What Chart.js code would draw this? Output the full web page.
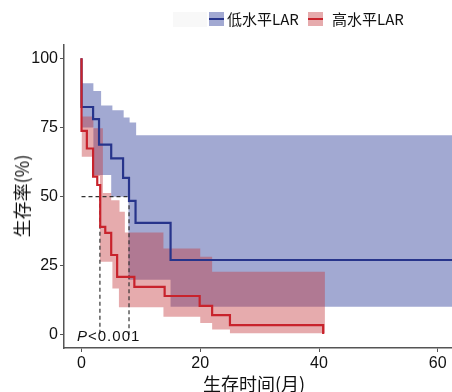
<!DOCTYPE html>
<html><head><meta charset="utf-8">
<script src="https://cdn.jsdelivr.net/npm/chart.js@4.4.1/dist/chart.umd.min.js"></script>
<style>
body{margin:0;background:#fff;}
#wrap{position:relative;width:452px;height:392px;overflow:hidden;}
.t{position:absolute;white-space:nowrap;color:#111;}
.cjk{font-family:"Noto Sans CJK SC","Noto Sans",sans-serif;}
</style></head>
<body>
<div id="wrap">
<canvas id="c" width="452" height="392"></canvas>
<div class="t" style="left:173px;top:12px;width:34px;height:15px;background:#f8f8f8;"></div>
<div class="t" style="left:209px;top:12px;width:15px;height:14px;background:rgba(70,84,165,0.5);"><div style="position:absolute;left:0;top:6px;width:15px;height:2px;background:#27348b"></div></div>
<div class="t cjk" id="lg1" style="left:227px;top:9px;font-size:15px;line-height:20px;"></div>
<div class="t" style="left:308px;top:12px;width:15px;height:14px;background:rgba(195,55,60,0.42);"><div style="position:absolute;left:0;top:6px;width:15px;height:2px;background:#c8232c"></div></div>
<div class="t cjk" id="lg2" style="left:332px;top:9px;font-size:15px;line-height:20px;"></div>
<div class="t cjk" id="xt" style="left:0;width:452px;padding-left:56px;box-sizing:border-box;text-align:center;top:372px;font-size:18px;line-height:22px;"></div>
<div class="t cjk" id="yt" style="left:21px;top:196px;font-size:18px;line-height:22px;transform:translate(-50%,-50%) rotate(-90deg);"></div>
<div class="t" id="pv" style="left:77px;top:327px;font-family:'Liberation Sans',Arial,sans-serif;font-size:15px;line-height:18px;letter-spacing:1px;"><i>P</i>&lt;0.001</div>
</div>
<script>
// ---- data ----
const seriesNames = ["低水平LAR", "高水平LAR"];
const xTitle = "生存时间(月)";
const yTitle = "生存率(%)";
const xTicks = [0, 20, 40, 60];
const yTicks = [0, 25, 50, 75, 100];

// low LAR survival curve
const lowTime = [0, 0, 1.95, 2.95, 5.0, 7.0, 8.0, 9.1, 15.0, 63];
const lowSurv = [100, 82.4, 78.0, 68.8, 63.8, 56.8, 48.5, 40.5, 27.1, 27.1];
// low LAR CI band
const lowUpperTime = [0, 2.0, 3.3, 5.2, 7.1, 8.1, 9.2, 63];
const lowUpperVal  = [91, 88.2, 82.9, 81.2, 78.6, 76.8, 72.2, 72.2];
const lowLowerTime = [0, 2.0, 5.0, 7.9, 15.0, 63];
const lowLowerVal  = [75, 57.8, 50, 20, 10.2, 10.2];

// high LAR survival curve
const highTime = [0, 0, 0.9, 1.95, 2.65, 3.15, 4.0, 5.0, 6.0, 8.9, 14.0, 19.9, 22.0, 25.0, 40.7];
const highSurv = [100, 73.8, 67.4, 57.2, 54.2, 39.1, 36.9, 28.9, 21.0, 17.4, 14.1, 10.5, 7.2, 3.6, 0.4];
// high LAR CI band
const highUpperTime = [0, 2.0, 3.6, 5.0, 6.4, 7.3, 13.8, 20.0, 22.0, 41.0];
const highUpperVal  = [79, 74.7, 51.3, 48.7, 44.5, 37, 31.3, 28.3, 22.9, 22.9];
const highLowerTime = [0, 1.8, 3.1, 5.2, 6.3, 13.8, 20.0, 22.0, 25.0, 41.0];
const highLowerVal  = [64.4, 57.5, 26.5, 16.8, 10, 6.6, 4.3, 2.0, 0.6, 0.6];

// median survival reference lines
const medianLevel = 50;
const medianTimes = [3.1, 8.0]; // high, low

// ---- text ----
document.getElementById('lg1').textContent = seriesNames[0];
document.getElementById('lg2').textContent = seriesNames[1];
document.getElementById('xt').textContent = xTitle;
document.getElementById('yt').textContent = yTitle;

const pts = (t, v) => t.map((x, i) => ({x: x, y: v[i]}));

const BLUE = '#27348b', RED = '#c8232c';
const BLUE_FILL = 'rgba(70,84,165,0.5)', RED_FILL = 'rgba(195,55,60,0.42)';

const datasets = [
  {label:'lowU', data: pts(lowUpperTime, lowUpperVal), stepped:'before', borderWidth:0, borderColor:'rgba(0,0,0,0)', backgroundColor: BLUE_FILL, fill: 1, pointRadius:0, order: 10},
  {label:'lowL', data: pts(lowLowerTime, lowLowerVal), stepped:'before', borderWidth:0, borderColor:'rgba(0,0,0,0)', fill:false, pointRadius:0, order: 10},
  {label:'highU', data: pts(highUpperTime, highUpperVal), stepped:'before', borderWidth:0, borderColor:'rgba(0,0,0,0)', backgroundColor: RED_FILL, fill: 3, pointRadius:0, order: 9},
  {label:'highL', data: pts(highLowerTime, highLowerVal), stepped:'before', borderWidth:0, borderColor:'rgba(0,0,0,0)', fill:false, pointRadius:0, order: 9},
  {label:'medHigh', data: [{x:medianTimes[0], y:medianLevel},{x:medianTimes[0], y:0}], borderColor:'#333', borderWidth:1.2, borderDash:[4,3], pointRadius:0, fill:false, order: 4},
  {label:'medLow', data: [{x:0, y:medianLevel},{x:medianTimes[1], y:medianLevel},{x:medianTimes[1], y:0}], borderColor:'#333', borderWidth:1.2, borderDash:[4,3], pointRadius:0, fill:false, order: 4},
  {label:seriesNames[0], data: pts(lowTime, lowSurv), stepped:'before', borderColor: BLUE, borderWidth:2.2, pointRadius:0, fill:false, order: 2},
  {label:seriesNames[1], data: pts(highTime, highSurv), stepped:'before', borderColor: RED, borderWidth:2.2, pointRadius:0, fill:false, order: 1},
];

const tickFont = {family:"'Liberation Sans', Arial, sans-serif", size:16};

new Chart(document.getElementById('c'), {
  type:'line',
  data:{datasets},
  options:{
    responsive:false, animation:false, devicePixelRatio:1,
    layout:{padding:{top:45, right:0, left:0, bottom:0}},
    plugins:{legend:{display:false}, tooltip:{enabled:false}, title:{display:false}},
    elements:{line:{tension:0}},
    scales:{
      x:{type:'linear', min:-2.95, max:62.4,
        afterFit(s){ s.height = 44; },
        afterBuildTicks(s){ s.ticks = xTicks.map(v=>({value:v})); },
        ticks:{font:tickFont, color:'#111', padding:2, maxRotation:0, autoSkip:false},
        grid:{drawOnChartArea:false, drawTicks:true, tickLength:4, color:'#555', lineWidth:1},
        border:{display:true, color:'#555', width:1.5}
      },
      y:{type:'linear', min:-4.7, max:104.8,
        afterFit(s){ s.width = 64; },
        afterBuildTicks(s){ s.ticks = yTicks.map(v=>({value:v})); },
        ticks:{font:tickFont, color:'#111', padding:2, autoSkip:false},
        grid:{drawOnChartArea:false, drawTicks:true, tickLength:4, color:'#555', lineWidth:1},
        border:{display:true, color:'#555', width:1.5}
      }
    }
  }
});
</script>
</body></html>
